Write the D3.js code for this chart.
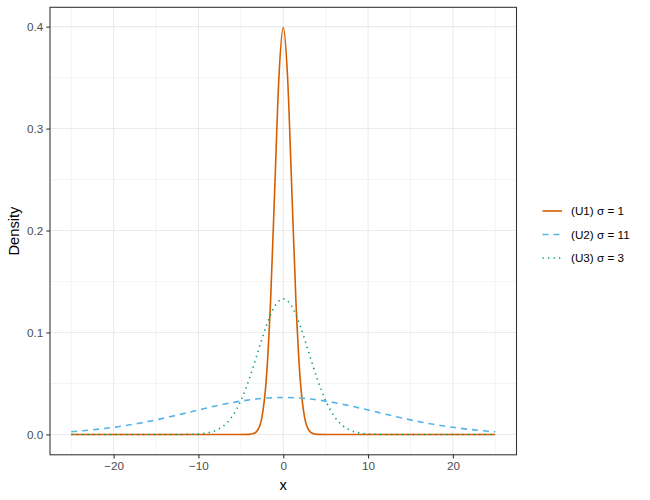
<!DOCTYPE html>
<html>
<head>
<meta charset="utf-8">
<script src="https://cdn.jsdelivr.net/npm/d3@7"></script>
<style>
  body { margin: 0; background: #fff; }
  text { font-family: "Liberation Sans", Arial, sans-serif; }
</style>
</head>
<body>
<div id="chart"></div>
<script>
// values
const seriesNames = ["(U1) σ = 1", "(U2) σ = 11", "(U3) σ = 3"]

const u1X = [-25, -5, -4, -3.5, -3, -2.5, -2, -1.5, -1, -0.5, 0, 0.5, 1, 1.5, 2, 2.5, 3, 3.5, 4, 5, 25]
const u1Y = [0, 0, 0.0001, 0.0009, 0.0044, 0.0175, 0.054, 0.130, 0.242, 0.352, 0.399, 0.352, 0.242, 0.130, 0.054, 0.0175, 0.0044, 0.0009, 0.0001, 0, 0]

const u2X = [-25, -22.5, -20, -17.5, -15, -12.5, -10, -7.5, -5, -2.5, 0, 2.5, 5, 7.5, 10, 12.5, 15, 17.5, 20, 22.5, 25]
const u2Y = [0.0027, 0.0045, 0.0070, 0.0102, 0.0143, 0.0190, 0.0240, 0.0288, 0.0327, 0.0354, 0.0363, 0.0354, 0.0327, 0.0288, 0.0240, 0.0190, 0.0143, 0.0102, 0.0070, 0.0045, 0.0027]

const u3X = [-25, -12, -10, -9, -8, -7, -6, -5, -4, -3, -2, -1, 0, 1, 2, 3, 4, 5, 6, 7, 8, 9, 10, 12, 25]
const u3Y = [0, 0, 0.0005, 0.0015, 0.0038, 0.0087, 0.0180, 0.0332, 0.0547, 0.0807, 0.1065, 0.1258, 0.1330, 0.1258, 0.1065, 0.0807, 0.0547, 0.0332, 0.0180, 0.0087, 0.0038, 0.0015, 0.0005, 0, 0]

const xTicks = [-20, -10, 0, 10, 20]
const xMinor = [-25, -15, -5, 5, 15, 25]
const yTicks = [0, 0.1, 0.2, 0.3, 0.4]
const yMinor = [0.05, 0.15, 0.25, 0.35]

// ----------------------------------------------------------

const width  = 650
const height = 500
const panel = { left: 50, right: 516.5, top: 7.3, bottom: 454.8 }

const colors = ["#D55E00", "#56B4E9", "#009E73"]
const dashes = [null, "6,5", "1.3,4.2"]

const series = [
    { name: seriesNames[0], pts: u1X.map((x, i) => ({ x: x, y: u1Y[i] })) },
    { name: seriesNames[1], pts: u2X.map((x, i) => ({ x: x, y: u2Y[i] })) },
    { name: seriesNames[2], pts: u3X.map((x, i) => ({ x: x, y: u3Y[i] })) }
]

const svg = d3.select("#chart")
    .append("svg")
    .attr("width",  width)
    .attr("height", height)

svg.append("rect").attr("width", width).attr("height", height).attr("fill", "white")

const yMax = d3.max(u1Y)
var x = d3.scaleLinear().domain([-27.5, 27.5]).range([panel.left, panel.right])
var y = d3.scaleLinear().domain([-yMax * 0.05, yMax * 1.05]).range([panel.bottom, panel.top])

const grid = svg.append("g").attr("id", "grid")

grid.selectAll(".vminor").data(xMinor).join("line")
    .attr("x1", d => x(d)).attr("x2", d => x(d))
    .attr("y1", panel.top).attr("y2", panel.bottom)
    .attr("stroke", "#EBEBEB").attr("stroke-width", 0.55)
grid.selectAll(".hminor").data(yMinor).join("line")
    .attr("y1", d => y(d)).attr("y2", d => y(d))
    .attr("x1", panel.left).attr("x2", panel.right)
    .attr("stroke", "#EBEBEB").attr("stroke-width", 0.55)
grid.selectAll(".vmajor").data(xTicks).join("line")
    .attr("x1", d => x(d)).attr("x2", d => x(d))
    .attr("y1", panel.top).attr("y2", panel.bottom)
    .attr("stroke", "#EBEBEB").attr("stroke-width", 1.07)
grid.selectAll(".hmajor").data(yTicks).join("line")
    .attr("y1", d => y(d)).attr("y2", d => y(d))
    .attr("x1", panel.left).attr("x2", panel.right)
    .attr("stroke", "#EBEBEB").attr("stroke-width", 1.07)

const line = d3.line()
    .x(d => x(d.x))
    .y(d => y(d.y))
    .curve(d3.curveMonotoneX)

svg.append("g").attr("id", "lines")
    .selectAll("path")
    .data(series)
    .join("path")
        .attr("d", d => line(d.pts))
        .attr("fill", "none")
        .attr("stroke", (d, i) => colors[i])
        .attr("stroke-width", 1.6)
        .attr("stroke-dasharray", (d, i) => dashes[i])

// panel border
svg.append("rect")
    .attr("x", panel.left).attr("y", panel.top)
    .attr("width", panel.right - panel.left).attr("height", panel.bottom - panel.top)
    .attr("fill", "none").attr("stroke", "#333333").attr("stroke-width", 1.07)

var xAxis = d3.axisBottom(x).tickValues(xTicks).tickSize(3.7).tickPadding(3)
    .tickFormat(d => d < 0 ? "\u2212" + Math.abs(d) : d)
var yAxis = d3.axisLeft(y).tickValues(yTicks).tickSize(3.7).tickPadding(3)
    .tickFormat(d3.format(".1f"))

const xAxisGroup = svg.append("g")
    .attr("transform", `translate(0, ${panel.bottom})`)
    .call(xAxis)
const yAxisGroup = svg.append("g")
    .attr("transform", `translate(${panel.left}, 0)`)
    .call(yAxis)

for (const g of [xAxisGroup, yAxisGroup]) {
    g.select(".domain").remove()
    g.selectAll(".tick line").attr("stroke", "#333333").attr("stroke-width", 1.07)
    g.selectAll(".tick text")
        .attr("fill", "#4D4D4D")
        .attr("font-size", 11.7)
        .style("font-family", "Liberation Sans, Arial, sans-serif")
}

svg.append("text")
    .text("x")
    .attr("x", (panel.left + panel.right) / 2)
    .attr("y", 490)
    .attr("text-anchor", "middle")
    .attr("font-size", 14.7)
    .attr("fill", "black")

svg.append("text")
    .text("Density")
    .attr("transform", `translate(19, ${(panel.top + panel.bottom) / 2}) rotate(-90)`)
    .attr("text-anchor", "middle")
    .attr("font-size", 14.7)
    .attr("fill", "black")

// legend
const legend = svg.append("g").attr("id", "legend")
    .attr("transform", "translate(541, 211)")

const rows = legend.selectAll("g")
    .data(series)
    .join("g")
        .attr("transform", (d, i) => `translate(0, ${i * 23.5})`)

rows.append("line")
    .attr("x1", 1.5).attr("x2", 21)
    .attr("y1", 0).attr("y2", 0)
    .attr("stroke", (d, i) => colors[i])
    .attr("stroke-width", 1.6)
    .attr("stroke-dasharray", (d, i) => dashes[i])

rows.append("text")
    .text(d => d.name)
    .attr("x", 30)
    .attr("y", 4)
    .attr("font-size", 11.7)
    .attr("fill", "black")
</script>
</body>
</html>
